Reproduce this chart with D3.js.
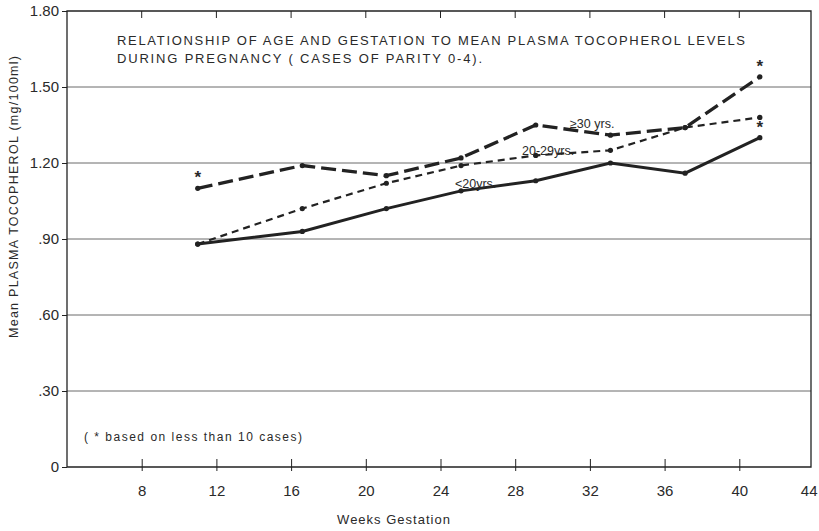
<!DOCTYPE html>
<html>
<head>
<meta charset="utf-8">
<script src="https://cdn.jsdelivr.net/npm/d3@7"></script>
<style>
  body { margin: 0; background: #fff; }
  text { font-family: 'Liberation Sans', 'DejaVu Sans', sans-serif; fill: #2a2a2a; }
</style>
</head>
<body>
<div id="canvas"></div>
<script>
// data
const weeks = [11, 16.6, 21.1, 25.1, 29.1, 33.1, 37.1, 41.1]
const over30 = [1.10, 1.19, 1.15, 1.22, 1.35, 1.31, 1.34, 1.54]
const age20to29 = [0.88, 1.02, 1.12, 1.19, 1.23, 1.25, 1.34, 1.38]
const under20 = [0.88, 0.93, 1.02, 1.09, 1.13, 1.20, 1.16, 1.30]
// index of points marked with * (fewer than 10 cases)
const starOver30 = [0, 7]
const starUnder20 = [7]
const xTicks = [8, 12, 16, 20, 24, 28, 32, 36, 40, 44]
const yTicks = [0, 0.3, 0.6, 0.9, 1.2, 1.5, 1.8]
const yTickLabels = ['0', '.30', '.60', '.90', '1.20', '1.50', '1.80']

const W = 819, H = 531
const m = {left: 67, right: 811, top: 11, bottom: 467}

const svg = d3.select('#canvas')
              .append('svg')
              .attr('width', W)
              .attr('height', H)

const x = d3.scaleLinear().domain([4, 44]).range([m.left, 814])
const y = d3.scaleLinear().domain([0, 1.8]).range([m.bottom, m.top])

const ink = '#222'

// gridlines
svg.append('g')
    .selectAll('line')
    .data(yTicks.filter(d => d > 0 && d < 1.8)).enter()
    .append('line')
        .attr('x1', m.left).attr('x2', m.right)
        .attr('y1', d => y(d)).attr('y2', d => y(d))
        .attr('stroke', '#6a6a6a')
        .attr('stroke-width', 1)

// frame
svg.append('path')
    .attr('d', `M${m.left},${m.bottom}V${m.top}H${m.right}V${m.bottom}Z`)
    .attr('fill', 'none')
    .attr('stroke', ink)
    .attr('stroke-width', 1.3)

// left axis
const yAxis = d3.axisLeft(y)
                .tickValues(yTicks)
                .tickFormat((d, i) => yTickLabels[i])
                .tickSize(5)
                .tickPadding(3)

const ya = svg.append('g')
    .attr('transform', `translate(${m.left}, 0)`)
    .call(yAxis)
ya.select('.domain').remove()
ya.selectAll('text').style('font-size', '15px').attr('fill', '#2a2a2a')
ya.selectAll('line').attr('stroke', ink)

// bottom axis
const xAxis = d3.axisBottom(x)
                .tickValues(xTicks)
                .tickSize(4)
                .tickPadding(14)

const xa = svg.append('g')
    .attr('transform', `translate(0, ${m.bottom})`)
    .call(xAxis)
xa.select('.domain').remove()
xa.selectAll('line').attr('y1', -8).attr('stroke', ink)
xa.selectAll('text').style('font-size', '15px').attr('fill', '#2a2a2a')
// 44 sits on the right edge of the frame; keep the label inside the page
xa.selectAll('.tick').filter(d => d === 44)
    .call(t => t.select('line').remove())
    .select('text').attr('text-anchor', 'end').attr('dx', 3)

// top ticks pointing inward
svg.append('g')
    .selectAll('line')
    .data(xTicks.filter(d => d < 44)).enter()
    .append('line')
        .attr('x1', d => x(d)).attr('x2', d => x(d))
        .attr('y1', m.top).attr('y2', m.top + 7)
        .attr('stroke', ink)

// series
const series = [
  {vals: under20, dash: null, w: 3},
  {vals: age20to29, dash: '7,5', w: 2.2},
  {vals: over30, dash: '15,6', w: 3.3}
]

const line = d3.line()
               .x((d, i) => x(weeks[i]))
               .y(d => y(d))

series.forEach(s => {
  svg.append('path')
      .datum(s.vals)
      .attr('d', line)
      .attr('fill', 'none')
      .attr('stroke', ink)
      .attr('stroke-width', s.w)
      .attr('stroke-dasharray', s.dash)

  svg.append('g')
      .selectAll('circle')
      .data(s.vals).enter()
      .append('circle')
          .attr('cx', (d, i) => x(weeks[i]))
          .attr('cy', d => y(d))
          .attr('r', 2.6)
          .attr('fill', ink)
})

// asterisks
const stars = starOver30.map(i => [weeks[i], over30[i]])
               .concat(starUnder20.map(i => [weeks[i], under20[i]]))
svg.append('g')
    .selectAll('text')
    .data(stars).enter()
    .append('text')
        .attr('x', d => x(d[0]))
        .attr('y', d => y(d[1]) - 5)
        .attr('text-anchor', 'middle')
        .style('font-size', '17px')
        .style('font-weight', 'bold')
        .text('*')

// series labels
svg.append('text').attr('x', 570).attr('y', 128).style('font-size', '12.5px').text('≥30 yrs.')
svg.append('text').attr('x', 522).attr('y', 155).style('font-size', '12.5px').text('20-29yrs.')
svg.append('text').attr('x', 455).attr('y', 188).style('font-size', '12.5px').text('<20yrs.')

// title
svg.append('text')
    .attr('x', 117).attr('y', 45)
    .attr('textLength', 628).attr('lengthAdjust', 'spacing')
    .style('font-size', '13px')
    .text('RELATIONSHIP OF AGE AND GESTATION TO MEAN PLASMA TOCOPHEROL LEVELS')
svg.append('text')
    .attr('x', 117).attr('y', 63)
    .attr('textLength', 365).attr('lengthAdjust', 'spacing')
    .style('font-size', '13px')
    .text('DURING  PREGNANCY  ( CASES OF PARITY 0-4).')

// footnote
svg.append('text')
    .attr('x', 84).attr('y', 441)
    .attr('textLength', 218).attr('lengthAdjust', 'spacing')
    .style('font-size', '12px')
    .text('( * based on less than 10 cases)')

// axis titles
svg.append('text')
    .attr('x', 394).attr('y', 524)
    .attr('text-anchor', 'middle')
    .style('font-size', '13px')
    .style('letter-spacing', '1px')
    .text('Weeks  Gestation')

svg.append('text')
    .attr('transform', 'translate(18, 197) rotate(-90)')
    .attr('text-anchor', 'middle')
    .attr('textLength', 282).attr('lengthAdjust', 'spacing')
    .style('font-size', '12.5px')
    .text('Mean  PLASMA  TOCOPHEROL (mg/100ml)')
</script>
</body>
</html>
